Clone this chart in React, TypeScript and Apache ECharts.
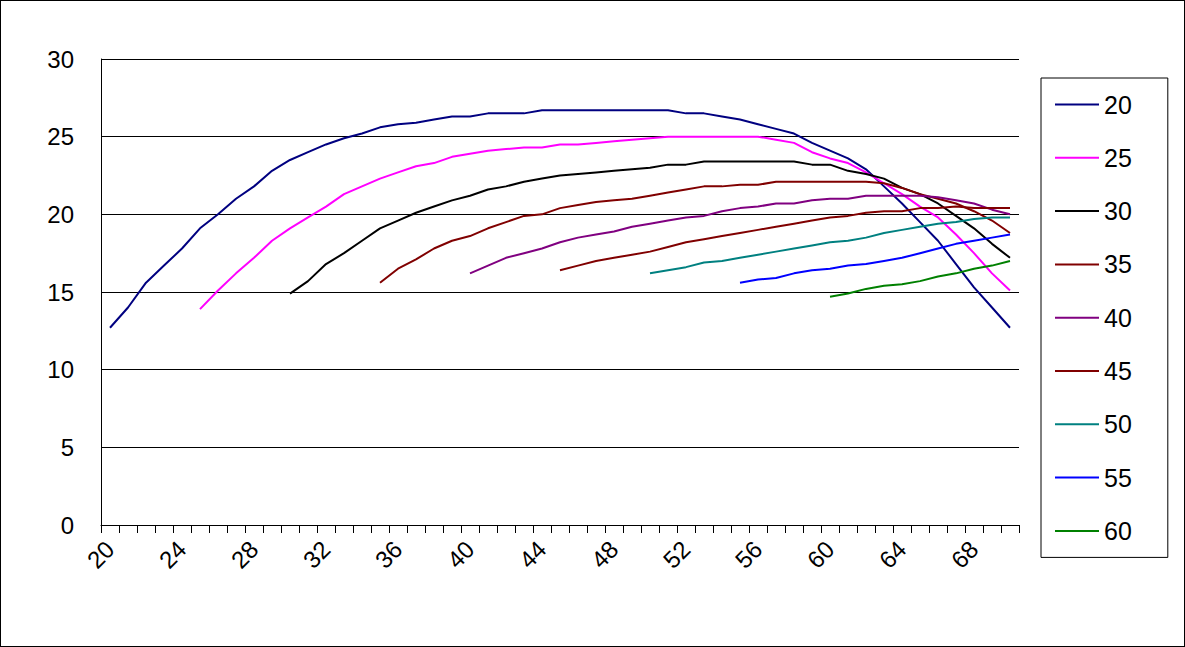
import React, { useEffect, useRef } from 'react';
import * as echarts from 'echarts';

const ages: string[] = [];
for (let a = 20; a <= 70; a++) ages.push(String(a));

const seriesNames = ['20', '25', '30', '35', '40', '45', '50', '55', '60'];
const colors = ['#000080', '#FF00FF', '#000000', '#800000', '#800080', '#800000', '#008080', '#0000FF', '#008000'];

// values by age, starting at the series' own start age and ending at 70
const s20 = [12.7, 14.0, 15.6, 16.7, 17.8, 19.1, 20.0, 21.0, 21.8, 22.8, 23.5, 24.0, 24.5, 24.9, 25.2, 25.6, 25.8, 25.9, 26.1, 26.3,
  26.3, 26.5, 26.5, 26.5, 26.7, 26.7, 26.7, 26.7, 26.7, 26.7, 26.7, 26.7, 26.5, 26.5, 26.3, 26.1, 25.8, 25.5, 25.2, 24.6,
  24.1, 23.6, 22.9, 21.8, 20.7, 19.5, 18.3, 16.8, 15.3, 14.0, 12.7];
const s25 = [13.9, 15.1, 16.2, 17.2, 18.3, 19.1, 19.8, 20.5, 21.3, 21.8, 22.3, 22.7, 23.1, 23.3, 23.7, 23.9, 24.1, 24.2, 24.3, 24.3,
  24.5, 24.5, 24.6, 24.7, 24.8, 24.9, 25.0, 25.0, 25.0, 25.0, 25.0, 25.0, 24.8, 24.6, 24.0, 23.6, 23.3, 22.7, 22.0, 21.3,
  20.5, 19.8, 18.7, 17.5, 16.2, 15.1];
const s30 = [14.9, 15.7, 16.8, 17.5, 18.3, 19.1, 19.6, 20.1, 20.5, 20.9, 21.2, 21.6, 21.8, 22.1, 22.3, 22.5, 22.6, 22.7, 22.8, 22.9,
  23.0, 23.2, 23.2, 23.4, 23.4, 23.4, 23.4, 23.4, 23.4, 23.2, 23.2, 22.8, 22.6, 22.3, 21.7, 21.3, 20.7, 19.9, 19.1, 18.1, 17.2];
const s35 = [15.6, 16.5, 17.1, 17.8, 18.3, 18.6, 19.1, 19.5, 19.9, 20.0, 20.4, 20.6, 20.8, 20.9, 21.0, 21.2, 21.4, 21.6, 21.8, 21.8,
  21.9, 21.9, 22.1, 22.1, 22.1, 22.1, 22.1, 22.1, 22.0, 21.7, 21.3, 21.0, 20.7, 20.2, 19.6, 18.8];
const s40 = [16.2, 16.7, 17.2, 17.5, 17.8, 18.2, 18.5, 18.7, 18.9, 19.2, 19.4, 19.6, 19.8, 19.9, 20.2, 20.4, 20.5, 20.7, 20.7, 20.9,
  21.0, 21.0, 21.2, 21.2, 21.2, 21.2, 21.1, 20.9, 20.7, 20.3, 20.0];
const s45 = [16.4, 16.7, 17.0, 17.2, 17.4, 17.6, 17.9, 18.2, 18.4, 18.6, 18.8, 19.0, 19.2, 19.4, 19.6, 19.8, 19.9, 20.1, 20.2, 20.2,
  20.4, 20.4, 20.5, 20.4, 20.4, 20.4];
const s50 = [16.2, 16.4, 16.6, 16.9, 17.0, 17.2, 17.4, 17.6, 17.8, 18.0, 18.2, 18.3, 18.5, 18.8, 19.0, 19.2, 19.4, 19.5, 19.7, 19.8, 19.8];
const s55 = [15.6, 15.8, 15.9, 16.2, 16.4, 16.5, 16.7, 16.8, 17.0, 17.2, 17.5, 17.8, 18.1, 18.3, 18.5, 18.7];
const s60 = [14.7, 14.9, 15.2, 15.4, 15.5, 15.7, 16.0, 16.2, 16.5, 16.7, 17.0];

const seriesValues = [s20, s25, s30, s35, s40, s45, s50, s55, s60];

const pad = (vals: number[]) => {
  const out: (number | null)[] = [];
  const start = ages.length - vals.length;
  for (let i = 0; i < ages.length; i++) out.push(i < start ? null : vals[i - start]);
  return out;
};

const App: React.FC = () => {
  const chartRef = useRef<HTMLDivElement>(null);

  useEffect(() => {
    document.body.style.margin = '0';
    if (!chartRef.current) return;
    const chart = echarts.init(chartRef.current, undefined, { renderer: 'svg' });
    const font = 'Liberation Sans, Arial, sans-serif';

    chart.setOption({
      animation: false,
      textStyle: { fontFamily: font },
      grid: { left: 100, top: 58, width: 918, height: 466 },
      legend: {
        orient: 'vertical',
        left: 1040,
        top: 77,
        width: 128,
        padding: [14, 36, 14, 14],
        itemGap: 28.3,
        itemWidth: 44,
        itemHeight: 2,
        icon: 'rect',
        borderColor: '#000',
        borderWidth: 1,
        textStyle: { fontSize: 25, color: '#000', fontFamily: font },
        data: seriesNames,
      },
      xAxis: {
        type: 'category',
        data: ages,
        boundaryGap: true,
        axisLine: { lineStyle: { color: '#000', width: 1 } },
        axisTick: { show: true, interval: 0, length: 8, lineStyle: { color: '#000' } },
        axisLabel: { interval: 3, rotate: 45, fontSize: 24, color: '#000', margin: 20, fontFamily: font },
      },
      yAxis: {
        type: 'value',
        min: 0,
        max: 30,
        interval: 5,
        axisLine: { show: true, lineStyle: { color: '#000' } },
        axisTick: { show: false },
        splitLine: { lineStyle: { color: '#000', width: 1 } },
        axisLabel: { fontSize: 24, color: '#000', margin: 27, fontFamily: font },
      },
      series: seriesNames.map((n, i) => ({
        name: n,
        type: 'line',
        data: pad(seriesValues[i]),
        symbol: 'none',
        lineStyle: { color: colors[i], width: 2 },
        itemStyle: { color: colors[i] },
      })),
    });

    return () => chart.dispose();
  }, []);

  return (
    <div
      ref={chartRef}
      style={{ width: 1183, height: 645, border: '1px solid #000', background: '#fff' }}
    />
  );
};

export default App;
